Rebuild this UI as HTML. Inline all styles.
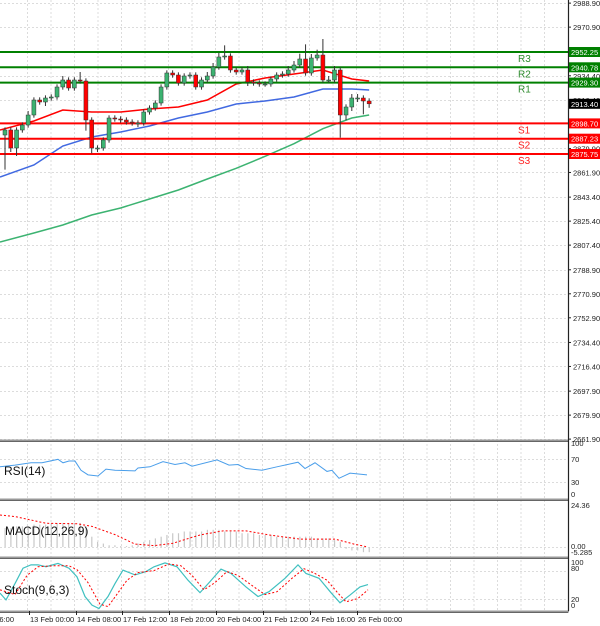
<!DOCTYPE html>
<html><head><meta charset="utf-8"><style>
html,body{margin:0;padding:0;background:#fff;}
svg{display:block;font-family:"Liberation Sans",sans-serif;}
</style></head><body>
<svg id="chart" width="600" height="626" viewBox="0 0 600 626" xmlns="http://www.w3.org/2000/svg"></svg>
<script>
// ---- data ----
const closes=[2893.75,2880.25,2893.75,2897.5,2905,2916.25,2914.75,2917.75,2918.5,2926,2931.25,2925.25,2931.25,2930.5,2901.25,2880.25,2880.25,2886.25,2902.75,2902,2901.25,2899.75,2899,2899,2907.25,2910.25,2914,2926,2936.5,2935,2929,2934.25,2935,2926,2931.25,2934.25,2941,2948.5,2949.25,2938.75,2937.25,2938.75,2929.75,2929,2928.25,2928.25,2932,2935,2935.75,2938.75,2942.5,2947,2936.5,2947.75,2950,2931.25,2931.25,2938.75,2905,2911,2917.75,2917.75,2915.5,2913.4];
const firstOpen=2890;
const upperWick=[2,2,2,2,3,2,2,2,2,2,3,2,2,6,2,2,2,2,2,2,2,2,2,2,2,2,2,2,2,2,2,2,2,2,2,3,3,3,8,2,2,2,3,2,2,2,2,2,2,3,3,4,11,3,4,12,3,3,2,2,3,3,2,2];
const lowerWick=[26,3,6,2,2,2,2,3,2,2,2,2,2,2,8,4,3,2,2,2,2,2,2,3,2,2,2,2,2,2,2,2,2,2,2,2,2,2,2,2,2,2,3,2,2,2,2,2,2,2,2,2,2,2,2,2,2,2,17,4,3,3,10,3];
const maIdx=[-1,5,10,15,20,25,30,35,40,45,50,55,60,63];
const maRed=[2893.75,2900.5,2908.75,2907.25,2907.25,2909.5,2911,2916.25,2928.25,2932.75,2935.75,2938.75,2932,2930.5];
const maBlue=[2858.5,2867.5,2881.75,2888.5,2892.25,2896.75,2902.75,2907.25,2913.25,2915.5,2918.5,2924.5,2924.5,2923.75];
const maGreen=[2809.75,2816.5,2822.5,2830,2835.25,2842,2848.75,2857,2865,2874,2883.5,2894.75,2902.75,2905];
const levelNames=["R3","R2","R1","S1","S2","S3"];
const levelValues=[2952.25,2940.78,2929.30,2898.70,2887.23,2875.75];
const priceTicks=[2988.90,2970.90,2934.40,2916.40,2879.90,2861.90,2843.40,2825.40,2807.40,2788.90,2770.90,2752.90,2734.40,2716.40,2697.90,2679.90,2661.90];
const lastPrice=2913.40;
const rsiX=[0,15,31,42,58,63,69,75,81,88,98,106,115,135,138,150,163,175,185,192,217,229,238,246,262,277,298,305,315,327,332,339,350,367];
const rsiVals=[56,59,63,63,69,63,66,66,50,42,40,52,50,49,54,56,65,60,63,57,68,59,60,53,50,56,64,53,63,48,50,36,45,42];
const macdHist=[11,11,12,12,12,13,13,13,14,14,14,14,14,14,12,6,3,2,1,1,0.5,0.5,1,2,3,4,5,6,7,8,8,9,9,9,9,10,10,10,9,9,9,8,8,8,7,7,7,6,6,6,6,6,6,6,5,5,5,4,3,-1,-2,-2,-3,-3];
const macdSigX=[0,15,46,77,92,115,135,154,173,200,223,246,269,300,335,354,368];
const macdSig=[18.6,17.7,13.8,13.5,12,7.2,1.7,0.8,2.2,7,9.4,9.4,7,4.6,4.6,1.7,0];
const stochX=[0,6,15,23,31,38,46,58,69,77,85,92,99,108,115,123,135,146,154,165,177,188,200,210,221,231,246,258,269,285,298,306,319,331,340,350,360,368];
const stochMain=[33,19,53,85,92,92,88,95,85,67,26,8,1,26,53,81,71,78,88,96,88,60,34,57,83,74,46,26,36,64,92,74,64,34,13,29,46,51];
const stochSigX=[0,15,27,38,54,69,77,88,100,108,115,127,138,154,169,181,192,204,215,227,238,254,265,277,292,304,315,327,338,346,358,368];
const stochSig=[40,30,70,88,90,90,82,55,10,5,25,60,76,80,94,90,70,40,55,78,70,46,30,36,64,84,74,60,33,15,22,40];
const dateLabels=["b 16:00","13 Feb 00:00","14 Feb 08:00","17 Feb 12:00","18 Feb 20:00","20 Feb 04:00","21 Feb 12:00","24 Feb 16:00","26 Feb 00:00"];
const dateX=[-12,29,76,122,169,216,263,310,357];

// ---- scales ----
const NS="http://www.w3.org/2000/svg";
const svg=document.getElementById('chart');
const AX=568;
const py=p=>52+(2952.25-p)*1.3333;
const cx=i=>5+i*5.78;
const rsiY=v=>499-v*0.575;
const macdY=v=>547-v*1.72;
const stY=v=>609-v*0.48;
function el(t,a,parent){const e=document.createElementNS(NS,t);for(const k in a)e.setAttribute(k,a[k]);(parent||svg).appendChild(e);return e;}
function txt(x,y,s,a){const e=el('text',Object.assign({x:x,y:y,'font-size':8,fill:'#222'},a||{}));e.textContent=s;return e;}

// grid
const grid=el('g',{stroke:'#dcdcdc','stroke-dasharray':'2,2','stroke-width':1});


for(let x=27.5;x<AX;x+=23.5){el('line',{x1:x,x2:x,y1:0,y2:611},grid);}
priceTicks.forEach(p=>{const y=Math.round(py(p))+0.5;el('line',{x1:0,x2:AX,y1:y,y2:y},grid);});
[70,30].forEach(v=>{const y=Math.round(rsiY(v))+0.5;el('line',{x1:0,x2:AX,y1:y,y2:y},grid);});
el('line',{x1:0,x2:AX,y1:547.5,y2:547.5},grid);
[80,20].forEach(v=>{const y=Math.round(stY(v))+0.5;el('line',{x1:0,x2:AX,y1:y,y2:y},grid);});

// MAs
function polyline(xs,ys,color,name,dash,w){const l=el('polyline',{points:xs.map((x,i)=>x+','+ys[i]).join(' '),fill:'none',stroke:color,'stroke-width':w||1.5});if(dash)l.setAttribute('stroke-dasharray',dash);return l;}
polyline(maIdx.map(i=>i<0?0:cx(i)),maGreen.map(py),'#3cb371','ma-green');
polyline(maIdx.map(i=>i<0?0:cx(i)),maBlue.map(py),'#4169e1','ma-blue');
polyline(maIdx.map(i=>i<0?0:cx(i)),maRed.map(py),'#ff0000','ma-red');

// levels
levelValues.forEach((v,i)=>{
  const res=i<3;const col=res?'#008000':'#ff0000';const y=py(v);
  const l=el('line',{x1:0,x2:AX,y1:y,y2:y,stroke:col,'stroke-width':2});
  
  
  const t=txt(518,y+10,levelNames[i],{'font-size':10,fill:res?'#2e8b2e':'#ff2020'});
  
  
});

// candles
let prev=firstOpen;
closes.forEach((c,i)=>{
  const o=prev;prev=c;const x=cx(i);
  const top=Math.max(o,c)+upperWick[i],bot=Math.min(o,c)-lowerWick[i];
  const w=el('line',{x1:x,x2:x,y1:py(top),y2:py(bot),stroke:'#333','stroke-width':1});
  
  
  const y1=py(Math.max(o,c)),y2=py(Math.min(o,c));
  const b=el('rect',{x:x-2,y:y1,width:4,height:Math.max(1,y2-y1),fill:c>=o?'#3cb371':'#ff0000',stroke:'#333','stroke-width':0.5});
  
  
});

// RSI
polyline(rsiX,rsiVals.map(rsiY),'#4a9eea','rsi-line',null,1);
// MACD hist
macdHist.forEach((v,i)=>{const r=el('rect',{x:cx(i)-0.5,y:Math.min(macdY(v),547),width:1.2,height:Math.abs(macdY(v)-547),fill:'#c8c8c8'});

});
polyline(macdSigX,macdSig.map(macdY),'#ff0000','macd-signal','2,2',1);
// Stoch
polyline(stochX,stochMain.map(stY),'#40c0c0','stoch-main',null,1.2);
polyline(stochSigX,stochSig.map(stY),'#ff0000','stoch-signal','2,2',1);

// panel labels
[["RSI(14)",4,475,'rsi-title'],["MACD(12,26,9)",5,535,'macd-title'],["Stoch(9,6,3)",4,594,'stoch-title']].forEach(a=>{const t=txt(a[1],a[2],a[0],{'font-size':12,fill:'#111'});});

// separators & axis
[440,499,557,611].forEach(y=>{el('rect',{x:0,y:y-0.5,width:AX+1,height:2,fill:'#999'});el('line',{x1:0,x2:AX,y1:y+1.5,y2:y+1.5,stroke:'#444','stroke-width':0.8});});
const ax=el('line',{x1:AX+0.5,x2:AX+0.5,y1:0,y2:611,stroke:'#222','stroke-width':1.2});



// price ticks
priceTicks.forEach(p=>{const y=py(p);el('line',{x1:AX,x2:AX+3,y1:y,y2:y,stroke:'#222'});const t=txt(573,y+3,p.toFixed(2),{'font-size':7.5});});
// boxes
function box(v,col,name){const y=py(v);el('rect',{x:569,y:y-5,width:31,height:10,fill:col});const t=txt(571,y+3,v.toFixed(2),{'font-size':7.5,fill:'#fff'});}
levelValues.forEach((v,i)=>box(v,i<3?'#008000':'#ff0000','level-price-'+levelNames[i].toLowerCase()));
box(lastPrice,'#000','last-price');
// sub axes
[["100",446],["70",462],["30",485],["0",497],["24.36",508],["0.00",549],["-5.285",555],["100",565],["80",571],["20",602],["0",608]].forEach(a=>{const t=txt(571,a[1],a[0],{'font-size':7.5});});
// dates
dateLabels.forEach((d,i)=>{el('line',{x1:dateX[i]+0.5,x2:dateX[i]+0.5,y1:611,y2:615,stroke:'#222'});const t=txt(dateX[i]+1,622,d,{'font-size':7.5});});
</script>
</body></html>
